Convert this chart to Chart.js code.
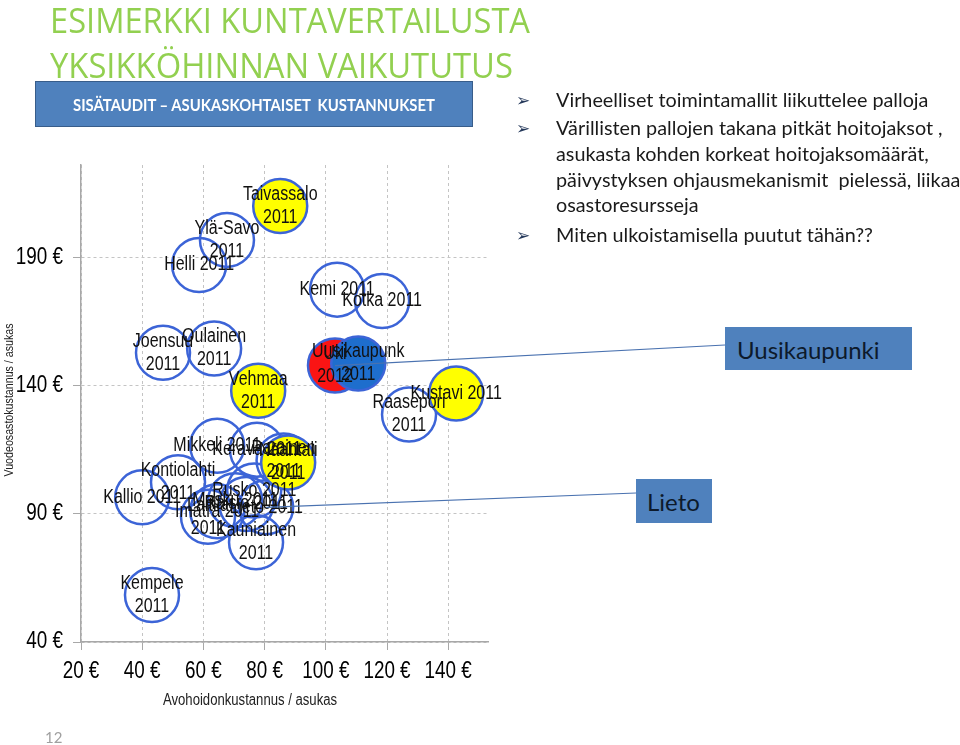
<!DOCTYPE html>
<html lang="fi">
<head>
<meta charset="utf-8">
<script src="https://cdn.jsdelivr.net/npm/chart.js@4.4.1/dist/chart.umd.min.js"></script>
<style>
html, body { margin: 0; padding: 0; background: #fff; }
body { width: 960px; height: 745px; position: relative; overflow: hidden; font-family: Lato, "Open Sans", sans-serif; }
#kaavio { position: absolute; left: 0; top: 0; }
.otsikko { position: absolute; left: 50px; font-family: "Open Sans", sans-serif; font-size: 35px; line-height: 35px; color: #92d050; white-space: nowrap; transform-origin: 0 0; }
#laatikko { position: absolute; left: 35px; top: 81px; width: 436px; height: 44px; background: #4f81bd; border: 1px solid #385d8a; }
#laatikkoTeksti { position: absolute; left: 73px; top: 96px; font-family: Lato, sans-serif; font-weight: bold; font-size: 17.5px; line-height: 17.5px; color: #fff; white-space: nowrap; transform-origin: 0 0; }
.nuoli { position: absolute; left: 516px; font-family: "DejaVu Sans", sans-serif; font-size: 17px; line-height: 17px; color: #24385a; }
.rivi { position: absolute; left: 556px; font-family: Lato, sans-serif; font-size: 19.8px; line-height: 19.8px; color: #1a1a1a; white-space: pre; }
.selite { position: absolute; background: #4f81bd; font-family: Lato, sans-serif; color: #0d1a2b; white-space: nowrap; }
#sivu { position: absolute; left: 45px; top: 728px; font-family: Lato, sans-serif; font-size: 15px; color: #a0a0a0; }
</style>
</head>
<body>
<canvas id="kaavio" width="960" height="745"></canvas>

<div class="otsikko" id="ots1" style="top:2px">ESIMERKKI KUNTAVERTAILUSTA</div>
<div class="otsikko" id="ots2" style="top:47px">YKSIKKÖHINNAN VAIKUTUTUS</div>

<div id="laatikko"></div>
<div id="laatikkoTeksti">SISÄTAUDIT – ASUKASKOHTAISET&nbsp; KUSTANNUKSET</div>

<div id="luettelo"></div>

<div class="selite" style="left:725px; top:327px; width:187px; height:43px;"><span style="position:absolute; left:12px; top:8px; font-size:24px;">Uusikaupunki</span></div>
<div class="selite" style="left:636px; top:479px; width:76px; height:44px;"><span style="position:absolute; left:11px; top:8px; font-size:24px;">Lieto</span></div>

<div id="sivu">12</div>

<script>
// Kunnat ja kustannukset (luettu kuvasta)
const kunnat = [
  'Taivassalo\n2011', 'Ylä-Savo\n2011', 'Helli 2011', 'Kemi 2011', 'Kotka 2011',
  'Joensuu\n2011', 'Oulainen\n2011', 'Vehmaa\n2011', 'Uki\n2012', 'Uusikaupunk\n2011',
  'Kustavi 2011', 'Raasepori\n2011', 'Mikkeli 2011', 'Kerava 2011', 'Parainen\n2011',
  'Naantali\n2011', 'Kontiolahti\n2011', 'Kallio 2011', 'Rusko 2011', 'Masku 2011',
  'Raisio 2011', 'Imatra 2011', 'Laitila\n2011', 'Lieto 2011', 'Kauniainen\n2011',
  'Kempele\n2011'
];
// Avohoidonkustannus / asukas (€)
const avohoito = [
  85.1, 67.7, 58.6, 103.7, 118.4,
  46.8, 63.5, 77.9, 103, 110.6,
  142.6, 127.2, 64.5, 77.5, 86.2,
  87.7, 51.7, 40, 76.6, 70.4,
  74, 64.5, 61.5, 80.5, 77.2,
  43.2
];
// Vuodeosastokustannus / asukas (€)
const vuodeosasto = [
  210, 196.8, 187, 177.4, 173,
  152.8, 154.4, 138, 147.8, 148.6,
  136.9, 128.7, 116.5, 115, 110.8,
  110, 102.3, 96.4, 99.1, 95.3,
  93.8, 91, 88.8, 92.5, 78.9,
  58.3
];
// ryhmä: 'p' = tavallinen, 'k' = keltainen, 'r' = punainen, 's' = sininen
const ryhma = [
  'k', 'p', 'p', 'p', 'p',
  'p', 'p', 'k', 'r', 's',
  'k', 'p', 'p', 'p', 'p',
  'k', 'p', 'p', 'p', 'p',
  'p', 'p', 'p', 'p', 'p',
  'p'
];
const xTicks = [20, 40, 60, 80, 100, 120, 140];
const yTicks = [40, 90, 140, 190];
const xRaja = [20, 153];
const yRaja = [40, 226];

const bullets = [
  ['Virheelliset toimintamallit liikuttelee palloja'],
  ['Värillisten pallojen takana pitkät hoitojaksot ,', 'asukasta kohden korkeat hoitojaksomäärät,', 'päivystyksen ohjausmekanismit  pielessä, liikaa', 'osastoresursseja'],
  ['Miten ulkoistamisella puutut tähän??']
];

// Luettelo oikealle
const riviY = [[107], [135, 161, 187, 212], [242]];
const luettelo = document.getElementById('luettelo');
bullets.forEach((b, i) => {
  const n = document.createElement('div');
  n.className = 'nuoli';
  n.textContent = '➢';
  n.style.top = (riviY[i][0] - 15) + 'px';
  luettelo.appendChild(n);
  b.forEach((t, j) => {
    const d = document.createElement('div');
    d.className = 'rivi';
    d.textContent = t;
    d.style.top = (riviY[i][j] - 17.5) + 'px';
    luettelo.appendChild(d);
  });
});

function sovita(el, leveys) {
  const w = el.getBoundingClientRect().width;
  el.style.transform = 'scaleX(' + (leveys / w) + ')';
}
sovita(document.getElementById('ots1'), 480);
sovita(document.getElementById('ots2'), 463);
sovita(document.getElementById('laatikkoTeksti'), 362);

// Arial Narrow -tyyli: Liberation Sans kavennettuna
const KAPEUS = 0.82;
function kapeaTeksti(ctx, t, x, y, koko, align) {
  ctx.save();
  ctx.font = koko + "px 'Liberation Sans', Arial, sans-serif";
  ctx.textAlign = align;
  ctx.textBaseline = 'middle';
  ctx.scale(KAPEUS, 1);
  ctx.fillText(t, x / KAPEUS, y);
  ctx.restore();
}

function pisteet(r) {
  const out = [];
  kunnat.forEach((k, i) => {
    if (ryhma[i] === r) out.push({ x: avohoito[i], y: vuodeosasto[i], nimi: k });
  });
  return out;
}

const reuna = 'rgb(60,100,215)';

// nimet pallojen päälle
const nimiPlugin = {
  id: 'nimet',
  afterDatasetsDraw(chart) {
    const ctx = chart.ctx;
    ctx.fillStyle = '#111';
    for (let d = chart.data.datasets.length - 1; d >= 0; d--) {
      const meta = chart.getDatasetMeta(d);
      meta.data.forEach((el, i) => {
        const rivit = chart.data.datasets[d].data[i].nimi.split('\n');
        rivit.forEach((t, j) => {
          kapeaTeksti(ctx, t, el.x, el.y + (j - (rivit.length - 1) / 2) * 23, 19.5, 'center');
        });
      });
    }
  }
};

// viivat selitelaatikoihin + akselitekstit
const selitteet = [
  { nimi: 'Uki\n2012', x: 725, y: 345 },
  { nimi: 'Lieto 2011', x: 636, y: 493 }
];
const viivaPlugin = {
  id: 'viivat',
  afterDatasetsDraw(chart) {
    const ctx = chart.ctx;
    ctx.save();
    ctx.strokeStyle = '#4a72b0';
    ctx.lineWidth = 1.2;
    selitteet.forEach(s => {
      chart.data.datasets.forEach((ds, d) => {
        const i = ds.data.findIndex(p => p.nimi === s.nimi);
        if (i < 0) return;
        const el = chart.getDatasetMeta(d).data[i];
        ctx.beginPath();
        ctx.moveTo(el.x, el.y);
        ctx.lineTo(s.x, s.y);
        ctx.stroke();
      });
    });
    ctx.restore();

    const { x, y } = chart.scales;
    const alue = chart.chartArea;
    ctx.fillStyle = '#000';
    x.ticks.forEach(t => kapeaTeksti(ctx, t.value + ' €', x.getPixelForValue(t.value), alue.bottom + 29.5, 23, 'center'));
    y.ticks.forEach(t => kapeaTeksti(ctx, t.value + ' €', alue.left - 18, y.getPixelForValue(t.value), 23, 'right'));

    ctx.fillStyle = '#222';
    kapeaTeksti(ctx, 'Avohoidonkustannus / asukas', 250, 701, 16, 'center');
    ctx.save();
    ctx.translate(9, 400);
    ctx.rotate(-Math.PI / 2);
    kapeaTeksti(ctx, 'Vuodeosastokustannus / asukas', 0, 0, 13, 'center');
    ctx.restore();
  }
};

new Chart(document.getElementById('kaavio'), {
  type: 'bubble',
  data: {
    datasets: [
      { data: pisteet('s'), backgroundColor: 'rgb(30,110,205)', borderColor: reuna },
      { data: pisteet('r'), backgroundColor: 'rgb(250,20,20)', borderColor: reuna },
      { data: pisteet('k'), backgroundColor: '#ffff00', borderColor: reuna },
      { data: pisteet('p'), backgroundColor: 'rgba(0,0,0,0)', borderColor: reuna }
    ]
  },
  options: {
    responsive: false,
    animation: false,
    events: [],
    radius: 27,
    borderWidth: 2.5,
    layout: { padding: { left: 0, top: 165, right: 472, bottom: 0 } },
    plugins: { legend: { display: false }, tooltip: { enabled: false } },
    scales: {
      x: {
        type: 'linear',
        min: xRaja[0],
        max: xRaja[1],
        afterBuildTicks: s => { s.ticks = xTicks.map(v => ({ value: v })); },
        afterFit: s => { s.height = 103; },
        grid: { color: '#c4c4c4', lineWidth: 1, tickLength: 8, tickColor: '#a8a8a8' },
        border: { color: '#a8a8a8', width: 1.5, dash: [3, 3] },
        ticks: { display: false }
      },
      y: {
        type: 'linear',
        min: yRaja[0],
        max: yRaja[1],
        afterBuildTicks: s => { s.ticks = yTicks.map(v => ({ value: v })); },
        afterFit: s => { s.width = 81; },
        grid: { color: '#c4c4c4', lineWidth: 1, tickLength: 8, tickColor: '#a8a8a8' },
        border: { color: '#a8a8a8', width: 1.5, dash: [3, 3] },
        ticks: { display: false }
      }
    }
  },
  plugins: [nimiPlugin, viivaPlugin]
});
</script>
</body>
</html>
